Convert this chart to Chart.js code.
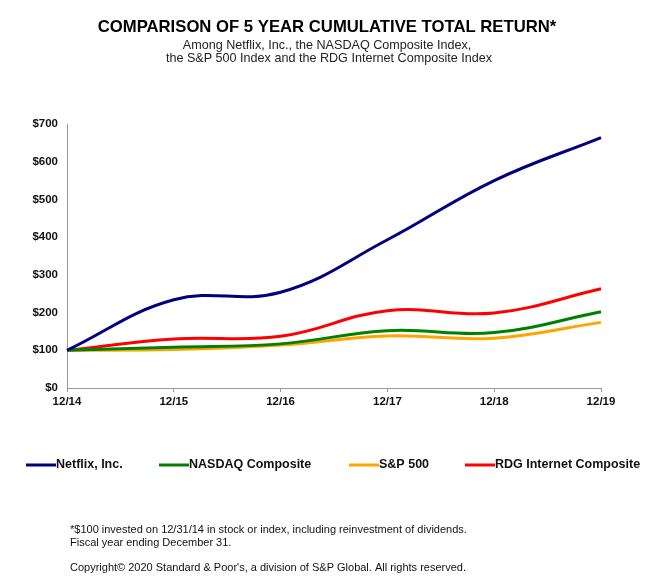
<!DOCTYPE html>
<html>
<head>
<meta charset="utf-8">
<script src="https://cdn.jsdelivr.net/npm/chart.js@4"></script>
<style>
  html, body { margin: 0; padding: 0; background: #ffffff; }
  #wrap { width: 658px; height: 581px; position: relative; }
</style>
</head>
<body>
<div id="wrap"><canvas id="c" width="658" height="581"></canvas></div>
<script>
const categories = ["12/14", "12/15", "12/16", "12/17", "12/18", "12/19"];
const netflix = [100, 234, 254, 393, 550, 664];
const nasdaq  = [100, 108, 117, 152, 147, 202];
const sp500   = [100, 102, 114, 138, 132, 174];
const rdg     = [100, 130, 137, 205, 199, 263];
const seriesNames = ["Netflix, Inc.", "NASDAQ Composite", "S&P 500", "RDG Internet Composite"];
const yTicks = [0, 100, 200, 300, 400, 500, 600, 700];

const titleText = "COMPARISON OF 5 YEAR CUMULATIVE TOTAL RETURN*";
const subtitleLines = ["Among Netflix, Inc., the NASDAQ Composite Index,", "the S&P 500 Index and the RDG Internet Composite Index"];
const footnotes = ["*$100 invested on 12/31/14 in stock or index, including reinvestment of dividends.", "Fiscal year ending December 31.", "", "Copyright\u00A9 2020 Standard & Poor's, a division of S&P Global. All rights reserved."];

const FONT = "'Liberation Sans', Arial, Helvetica, sans-serif";
const colors = ["#000080", "#008000", "#FFA500", "#FF0000"];

const decor = {
  id: 'decor',
  afterDraw(chart) {
    const ctx = chart.ctx;
    ctx.save();
    ctx.fillStyle = '#000';
    ctx.textAlign = 'center';
    ctx.textBaseline = 'middle';
    ctx.font = "bold 16.7px " + FONT;
    ctx.fillText(titleText, 327, 27);
    ctx.font = "12.6px " + FONT;
    ctx.fillStyle = '#222';
    ctx.fillText(subtitleLines[0], 327, 46);
    ctx.fillText(subtitleLines[1], 329, 59);

    // legend
    const lx = [26, 159, 349, 465];
    const ly = 465;
    chart.data.datasets.forEach((ds, i) => {
      ctx.strokeStyle = ds.borderColor;
      ctx.lineWidth = 3;
      ctx.beginPath();
      ctx.moveTo(lx[i], ly);
      ctx.lineTo(lx[i] + 30, ly);
      ctx.stroke();
      ctx.fillStyle = '#111';
      ctx.textAlign = 'left';
      ctx.font = "bold 12.5px " + FONT;
      ctx.fillText(ds.label, lx[i] + 30, ly);
    });

    // footnotes
    ctx.font = "11px " + FONT;
    ctx.fillStyle = '#111';
    ctx.textAlign = 'left';
    const fy = [530, 543, 556, 568];
    footnotes.forEach((t, i) => { if (t) ctx.fillText(t, 70, fy[i]); });
    ctx.restore();
  }
};

const mk = (label, data, color) => ({
  label, data, borderColor: color, backgroundColor: color,
  borderWidth: 3, pointRadius: 0, pointHoverRadius: 0, tension: 0.4, fill: false
});

new Chart(document.getElementById('c'), {
  type: 'line',
  data: {
    labels: categories,
    datasets: [
      mk(seriesNames[0], netflix, colors[0]),
      mk(seriesNames[1], nasdaq, colors[1]),
      mk(seriesNames[2], sp500, colors[2]),
      mk(seriesNames[3], rdg, colors[3])
    ]
  },
  options: {
    responsive: false,
    animation: false,
    devicePixelRatio: 1,
    layout: { padding: { left: 0, right: 57, top: 124, bottom: 100 } },
    plugins: { legend: { display: false }, title: { display: false }, tooltip: { enabled: false } },
    scales: {
      x: {
        offset: false,
        afterFit: (s) => { s.height = 93; },
        grid: { display: true, drawOnChartArea: false, drawTicks: true, tickLength: 4, color: '#999' },
        border: { display: true, color: '#999', width: 1 },
        ticks: { color: '#111', font: { family: FONT, size: 11.5, weight: 'bold' }, padding: 3, maxRotation: 0, autoSkip: false }
      },
      y: {
        min: 0, max: 700,
        afterFit: (s) => { s.width = 67; },
        afterBuildTicks: (s) => { s.ticks = yTicks.map(v => ({ value: v })); },
        grid: { display: true, drawOnChartArea: false, drawTicks: false },
        border: { display: true, color: '#999', width: 1 },
        ticks: { color: '#111', font: { family: FONT, size: 11.5, weight: 'bold' }, padding: 9, callback: (v) => '$' + v }
      }
    }
  },
  plugins: [decor]
});
</script>
</body>
</html>
